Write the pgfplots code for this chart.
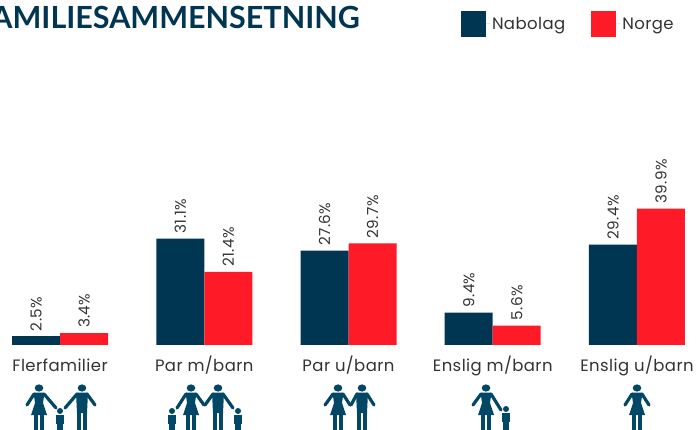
\documentclass[border=0pt]{standalone}
\usepackage{fontspec}
\setmainfont[LetterSpace=2.5]{Poppins}
\newfontfamily\titlefont{Lato}
\usepackage{pgfplots}
\pgfplotsset{compat=1.18}
\definecolor{navy}{HTML}{013652}
\definecolor{rd}{HTML}{FF1A27}
\definecolor{icon}{HTML}{034766}
\definecolor{txt}{HTML}{333333}

% figures, x is the centre of the body, sizes in reference pixels
\newcommand{\woman}[1]{%
  \fill[icon] (#1,388) ellipse (4.3 and 3.6);
  \fill[icon] (#1-5.5,392.5) -- (#1+5.5,392.5) -- (#1+4,403) -- (#1+8,415) -- (#1-8,415) -- (#1-4,403) -- cycle;
  \fill[icon] (#1-5,415) rectangle (#1-0.7,430);
  \fill[icon] (#1+0.7,415) rectangle (#1+5,430);
}
\newcommand{\man}[1]{%
  \fill[icon] (#1,388) ellipse (4.3 and 3.6);
  \fill[icon] (#1-6,392.5) -- (#1+6,392.5) -- (#1+5,413) -- (#1-5,413) -- cycle;
  \fill[icon] (#1-5,412) rectangle (#1-0.7,430);
  \fill[icon] (#1+0.7,412) rectangle (#1+5,430);
}
\newcommand{\child}[2]{%
  \fill[icon] (#1,#2) circle (3);
  \fill[icon] (#1-4,#2+4) rectangle (#1+4,#2+13);
  \fill[icon] (#1-3,#2+12) rectangle (#1+3,430);
}
\newcommand{\arm}[4]{%
  \draw[icon,line width=3.2pt,line cap=round] (#1,#2) -- (#3,#4);
}

\begin{document}
\begin{tikzpicture}[x=1pt,y=1pt]
  \useasboundingbox (0,0) rectangle (697,429);
  \clip (0,0) rectangle (697,429);
  \begin{axis}[
    at={(0,0)}, anchor=south west,
    scale only axis,
    width=697pt, height=429pt,
    xmin=-0.416, xmax=4.416,
    ymin=-24.7, ymax=101.1,
    axis y line=none,
    axis x line=bottom,
    x axis line style={draw=none},
    xtick=data,
    xticklabels={Flerfamilier,Par m/barn,Par u/barn,Enslig m/barn,Enslig u/barn},
    tick style={draw=none},
    xticklabel style={font=\fontsize{16.5}{18}\selectfont, text=txt, yshift=73pt, inner sep=0pt,
      text height=11pt, text depth=3pt},
    ybar=0pt,
    bar width=48pt,
    nodes near coords={\pgfmathprintnumber[fixed,fixed zerofill,precision=1,assume math mode=true]{\pgfplotspointmeta}\%},
    every node near coord/.append style={rotate=90, anchor=west, inner sep=0pt, xshift=5pt,
      font=\fontsize{15.2}{16}\selectfont, text=txt},
    clip=false,
    legend columns=2,
    legend style={at={(461pt,418pt)}, anchor=north west, draw=none, fill=none,
      inner sep=0pt, outer sep=0pt, font=\fontsize{16.5}{18}\selectfont, text=txt,
      /tikz/every even column/.append style={column sep=24pt}},
    legend image code/.code={\fill[#1] (0pt,-13pt) rectangle (25pt,13pt); \path (0pt,0pt) -- (29pt,0pt);},
  ]
    \addplot[fill=navy,draw=none] coordinates {(0,2.5)(1,31.1)(2,27.6)(3,9.4)(4,29.4)};
    \addlegendentry{Nabolag}
    \addplot[fill=rd,draw=none] coordinates {(0,3.4)(1,21.4)(2,29.7)(3,5.6)(4,39.9)};
    \addlegendentry{Norge}
  \end{axis}

  \node[anchor=base east, inner sep=0pt, text=navy, font=\fontsize{30.5}{30}\selectfont\titlefont\bfseries]
    at (360,429-29) {FAMILIESAMMENSETNING};

  \begin{scope}[y=-1pt, yshift=429pt]
    % two adults and a child
    \woman{39} \man{82} \child{60}{411}
    \arm{34}{394}{27}{405} \arm{44}{394}{56}{408}
    \arm{87}{394}{95}{405} \arm{77}{394}{65}{408}
    % two adults and two children
    \woman{191} \man{218} \child{172}{411} \child{238}{411}
    \arm{186}{394}{177}{408} \arm{196}{394}{204}{405}
    \arm{213}{394}{205}{405} \arm{223}{394}{233}{408}
    \fill[white] (245,405) rectangle (250,430);
    % two adults
    \woman{338} \man{362}
    \arm{333}{394}{325}{405} \arm{343}{394}{350}{405}
    \arm{357}{394}{351}{405} \arm{367}{394}{374}{405}
    % one adult and a child
    \woman{486} \child{506}{409}
    \arm{481}{394}{473}{405} \arm{491}{394}{501}{410}
    % one adult
    \woman{637}
    \arm{632}{394}{625}{405} \arm{642}{394}{649}{405}
  \end{scope}
\end{tikzpicture}
\end{document}
